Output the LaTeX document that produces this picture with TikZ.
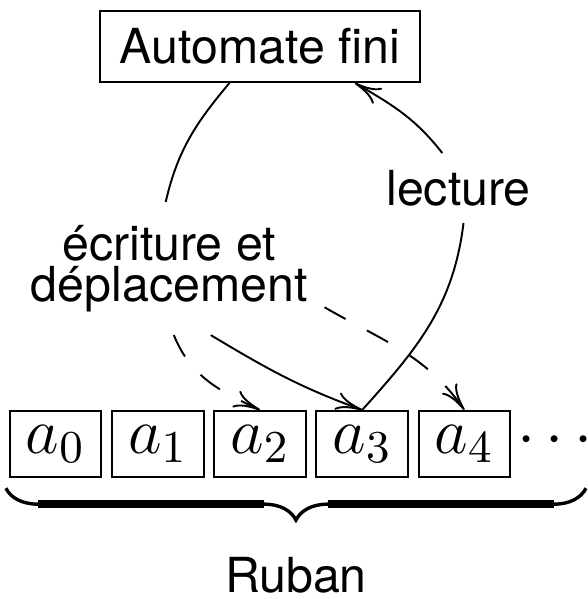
\documentclass[tikz,border=0pt]{standalone}
\usepackage{fix-cm}
\usepackage[no-math]{fontspec}
\setmainfont{TeX Gyre Heros}
\usetikzlibrary{arrows.meta,positioning,decorations.pathreplacing}
\tikzstyle{Block} = [draw, rectangle, inner xsep=4.2pt, inner ysep=3.6pt]
\tikzstyle{Cell} = [draw, rectangle, inner ysep=1pt, minimum width=18.6pt, minimum height=13.7pt, font=\fontsize{13.5}{16}\selectfont]
\tikzstyle{Label} = [align=center, inner ysep=4.6pt]
\tikzstyle{Dashed} = [dash pattern=on 5pt off 5pt]
\tikzstyle{Brace} = [decorate, decoration={brace, mirror, amplitude=6.6pt}, line width=0.7pt]
\tikzstyle{Bar} = [line width=1.65pt]

\begin{document}
\begin{tikzpicture}[>={To[length=5.5pt,width=3.8pt]}]
    \useasboundingbox (-53.83pt,-32.09pt) rectangle (67.91pt,91.93pt);
    \node[Cell]  (a2)       at (0,0)                            {$a_2$};
    \node[Cell]  (a1)       [left=1.8pt of a2]                  {$a_1$};
    \node[Cell]  (a0)       [left=1.8pt of a1]                  {$a_0$};
    \node[Cell]  (a3)       [right=1.8pt of a2]                 {$a_3$};
    \node[Cell]  (a4)       [right=1.8pt of a3]                 {$a_4$};
    \node[font=\fontsize{13.5}{16}\selectfont] (dots) [right=0pt of a4, xshift=-2.3pt, yshift=0.6pt] {$\cdots$};
    \node[Block] (automate) [above=67.7pt of a2]                {Automate fini};
    \node[Label] (ecriture) [above=15.5pt of a2, xshift=-18.8pt] {écriture et\\[-3.5pt]déplacement};
    \node        (lecture)  [above=38.7pt of a4, xshift=-1.2pt] {lecture};
    \coordinate (braceL)   at ([shift={(-0.6pt,-2.1pt)}]a0.south west);
    \coordinate (braceR)   at ([xshift=120.1pt]braceL);
    \coordinate (braceTip) at ([shift={(60.05pt,-6.6pt)}]braceL);
    \node        (ruban)    [below=4.2pt of braceTip]           {Ruban};
    \draw[Brace] (braceL) -- (braceR);
    \draw[Bar] ([shift={(6.6pt,-3.3pt)}]braceL) -- ([shift={(-6.6pt,3.3pt)}]braceTip);
    \draw[Bar] ([shift={(6.6pt,3.3pt)}]braceTip) -- ([shift={(-6.6pt,-3.3pt)}]braceR);
    \draw (automate.-130) to [out=-130,in=77] (ecriture.93);
    \draw[->] (ecriture.-58) to [out=-31,in=160] (a3.north);
    \draw[->,Dashed] (ecriture.-86) to [out=-68,in=155] (a2.north);
    \draw[->,Dashed] (ecriture.-14) to [out=-30,in=125] (a4.north);
    \draw (a3.north) to [out=48,in=-97] (lecture.-82);
    \draw[->] (lecture.115) to [out=128,in=-30] (automate.-21);
\end{tikzpicture}
\end{document}
